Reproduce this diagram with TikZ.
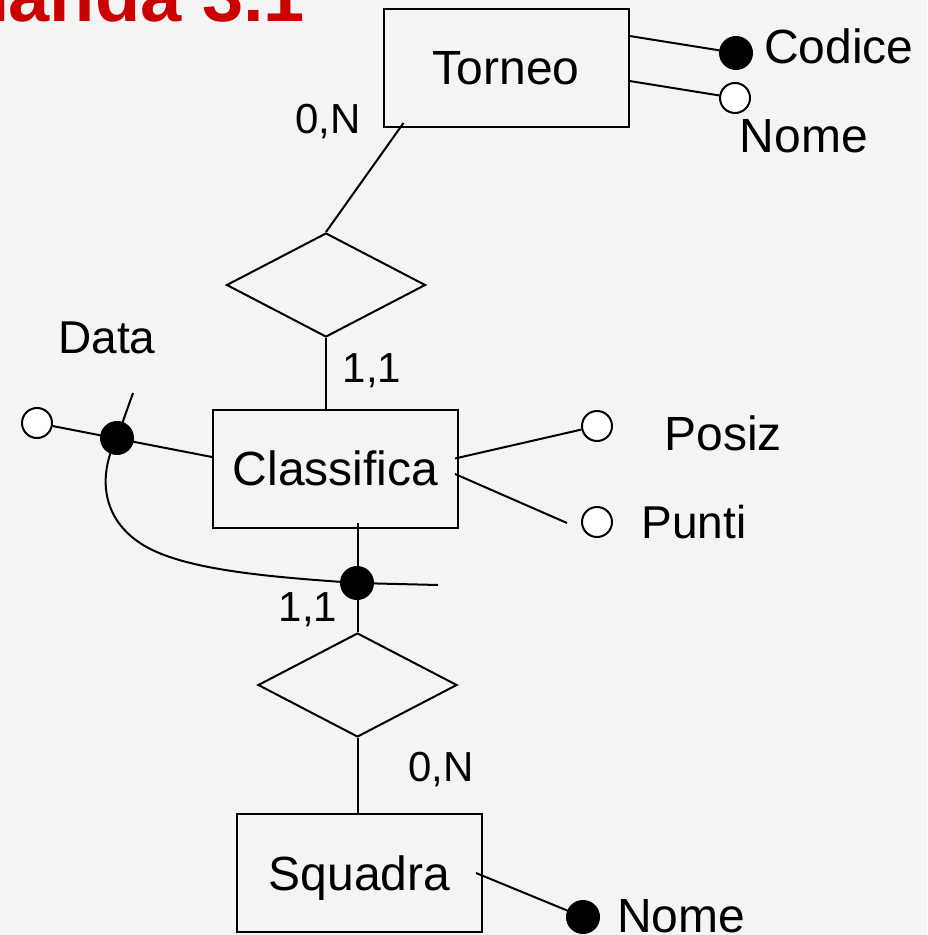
\documentclass[tikz,border=0pt]{standalone}
\usepackage{fontspec}
\setmainfont{Liberation Sans}
\usetikzlibrary{shapes, calc}

\definecolor{titlered}{RGB}{204,0,0}
\definecolor{slidebg}{RGB}{244,244,244}

\begin{document}
\begin{tikzpicture}[x=0.5pt, y=-0.5pt, line width=1pt,
	entity/.style={draw, rectangle, minimum width=122.5pt, minimum height=59pt,
		inner sep=0pt, text height=17pt, text depth=0pt, font=\fontsize{24}{28}\selectfont},
	relation/.style={draw, diamond, aspect=1.9, minimum width=99.5pt,
		minimum height=52pt, inner sep=0pt},
	keyattr/.style={draw, circle, fill=black, minimum size=16pt, inner sep=0pt},
	attr/.style={draw, circle, fill=white, minimum size=15pt, inner sep=0pt},
	attrname/.style={anchor=base, inner sep=0pt, font=\fontsize{24}{28}\selectfont},
	card/.style={anchor=base, inner sep=0pt, font=\fontsize{21}{25}\selectfont}]

	\fill[slidebg] (0,0) rectangle (927,935);
	\useasboundingbox (0,0) rectangle (927,935);
	\clip (0,0) rectangle (927,935);

	\node[anchor=base east, inner sep=0pt, text=titlered,
		font=\fontsize{37}{44}\selectfont\bfseries] (title) at (306,22) {Domanda 3.1};

	% entita' e relazioni
	\node[entity] (torneo)     at (506,68)    {Torneo};
	\node[relation] (rel1)     at (326,285)   {};
	\node[entity] (classifica) at (335.5,468.5) {Classifica};
	\node[relation] (rel2)     at (357.5,685) {};
	\node[entity] (squadra)    at (359.5,873) {Squadra};

	\draw ($(torneo.south west)+(21,-5)$) -- (rel1.north);
	\draw (rel1.south) -- (rel1.south |- classifica.north);
	\draw ($(classifica.south)+(22,-6)$) -- (rel2.north);
	\draw (rel2.south) -- (rel2.south |- squadra.north);

	\node[card] (cardtorneo)  at (328,134) {0,N};
	\node[card] (cardcl1)     at (372,382) {1,1};
	\node[card] (cardcl2)     at (308,621) {1,1};
	\node[card] (cardsquadra) at (441,781) {0,N};

	% attributi di Torneo
	\node[keyattr] (codice) at (736,53) {};
	\node[attr] (nometo)    at (735,98) {};
	\draw ($(torneo.north east)+(0,28)$) -- (codice);
	\draw ($(torneo.north east)+(0,73)$) -- (nometo);
	\node[attrname, anchor=base west] (codicetxt) at (763,64) {Codice};
	\node[attrname] (nometotxt) at (804,153) {Nome};

	% attributi di Classifica
	\node[attr] (posiz) at (597,426) {};
	\node[attr] (punti) at (597,522) {};
	\coordinate (puntiend) at (567,523);
	\draw ($(classifica.east)+(-4,-10)$) -- (posiz);
	\draw ($(classifica.east)+(-4,5.5)$) -- (puntiend);
	\node[attrname] (posiztxt) at (723,450) {Posiz};
	\node[attrname, font=\fontsize{23}{27}\selectfont] (puntitxt) at (694,538) {Punti};

	% identificatore esterno con Data
	\node[attr] (data) at (37,423) {};
	\coordinate (datatip) at (133,393);
	\coordinate (idtail) at (438,585);
	\draw (data) -- ($(classifica.west)+(0,-11.5)$);
	\draw (117,438) -- (datatip);
	\draw (117,438) .. controls (100,470) and (98,515) .. (140,543)
		.. controls (180,570) and (270,577) .. (357,583) -- (idtail);
	\node[keyattr] (idda) at (117,438) {};
	\node[keyattr] (idcl) at (357,583) {};
	\node[attrname, font=\fontsize{23}{27}\selectfont] (datatxt) at (107,353) {Data};

	% attributo di Squadra
	\node[keyattr] (nomesq) at (583,917) {};
	\draw ($(squadra.east)+(-7,0)$) -- (nomesq);
	\node[attrname, anchor=base west] (nomesqtxt) at (616,932) {Nome};
\end{tikzpicture}
\end{document}
